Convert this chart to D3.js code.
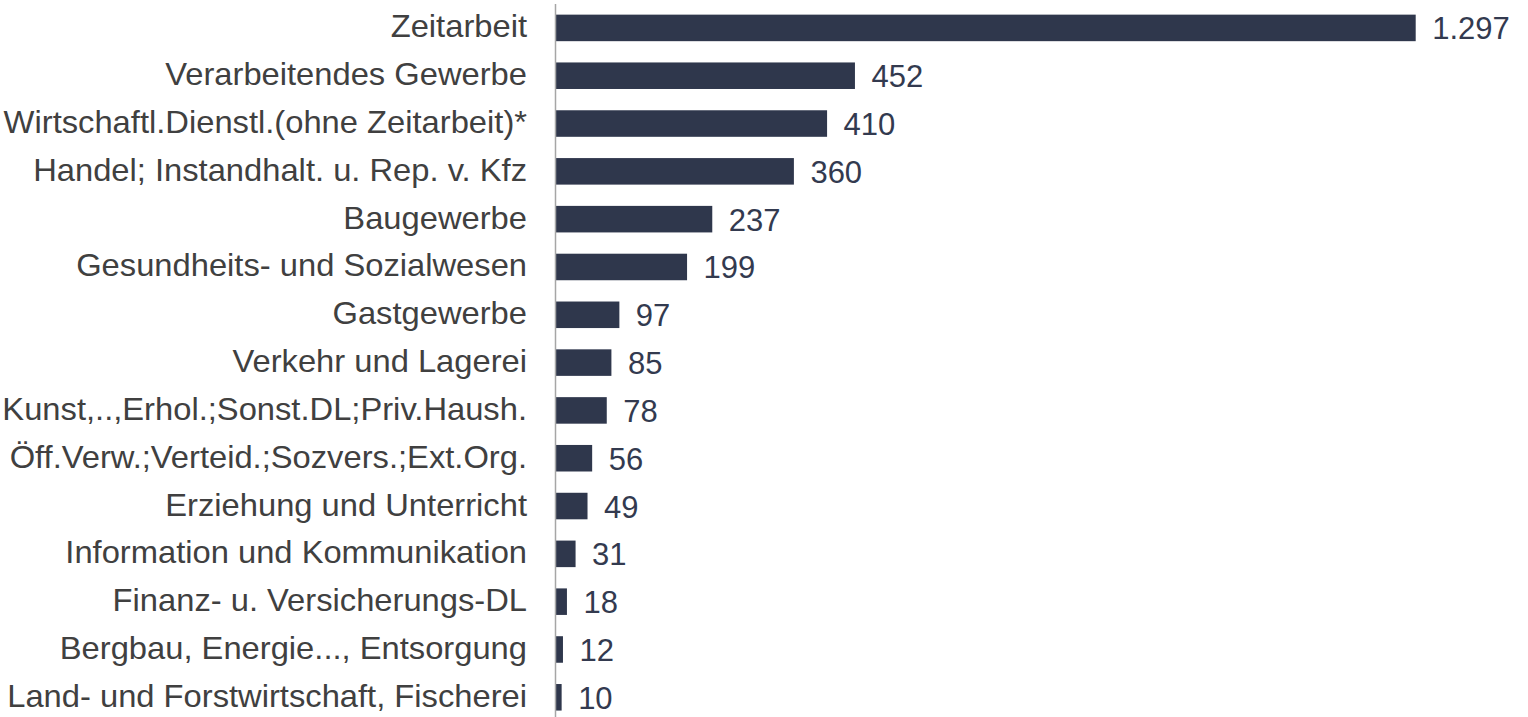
<!DOCTYPE html>
<html>
<head>
<meta charset="utf-8">
<script src="https://cdn.jsdelivr.net/npm/d3@7"></script>
<style>
  html, body { margin: 0; padding: 0; background: #ffffff; }
  svg { display: block; }
</style>
</head>
<body>
<svg id="chart" width="1528" height="717"></svg>
<script>
const categories = [
  "Zeitarbeit",
  "Verarbeitendes Gewerbe",
  "Wirtschaftl.Dienstl.(ohne Zeitarbeit)*",
  "Handel; Instandhalt. u. Rep. v. Kfz",
  "Baugewerbe",
  "Gesundheits- und Sozialwesen",
  "Gastgewerbe",
  "Verkehr und Lagerei",
  "Kunst,..,Erhol.;Sonst.DL;Priv.Haush.",
  "Öff.Verw.;Verteid.;Sozvers.;Ext.Org.",
  "Erziehung und Unterricht",
  "Information und Kommunikation",
  "Finanz- u. Versicherungs-DL",
  "Bergbau, Energie..., Entsorgung",
  "Land- und Forstwirtschaft, Fischerei"
];
const values = [1297, 452, 410, 360, 237, 199, 97, 85, 78, 56, 49, 31, 18, 12, 10];

const svg = d3.select("#chart");
const fmt = d3.formatLocale({decimal: ",", thousands: ".", grouping: [3], currency: ["", "€"]}).format(",d");

const x = d3.scaleLinear().domain([0, 1297]).range([555, 1415.7]);
const y = d3.scaleBand().domain(categories).range([4, 721.2]).paddingInner(0.445).paddingOuter(0.2225);

const data = categories.map((c, i) => ({c, v: values[i]}));

svg.append("g").selectAll("rect").data(data).join("rect")
  .attr("x", x(0))
  .attr("y", d => y(d.c))
  .attr("width", d => x(d.v) - x(0))
  .attr("height", y.bandwidth())
  .attr("fill", "#2f374c");

svg.append("line")
  .attr("x1", 555.5).attr("x2", 555.5)
  .attr("y1", 4).attr("y2", 717)
  .attr("stroke", "#a6a6a6").attr("stroke-width", 1.5);

svg.append("g").selectAll("text").data(data).join("text")
  .attr("transform", d => `translate(527,${y(d.c) + y.bandwidth() / 2 + 9.5}) scale(1.055,1)`)
  .attr("text-anchor", "end")
  .attr("font-family", "'Liberation Sans', Arial, sans-serif")
  .attr("font-size", 31)
  .attr("fill", "#404040")
  .text(d => d.c);

svg.append("g").selectAll("text").data(data).join("text")
  .attr("x", d => x(d.v) + 16.5)
  .attr("y", d => y(d.c) + y.bandwidth() / 2 + 11.5)
  .attr("text-anchor", "start")
  .attr("font-family", "'Liberation Sans', Arial, sans-serif")
  .attr("font-size", 31)
  .attr("fill", "#333a4f")
  .text(d => fmt(d.v));
</script>
</body>
</html>
